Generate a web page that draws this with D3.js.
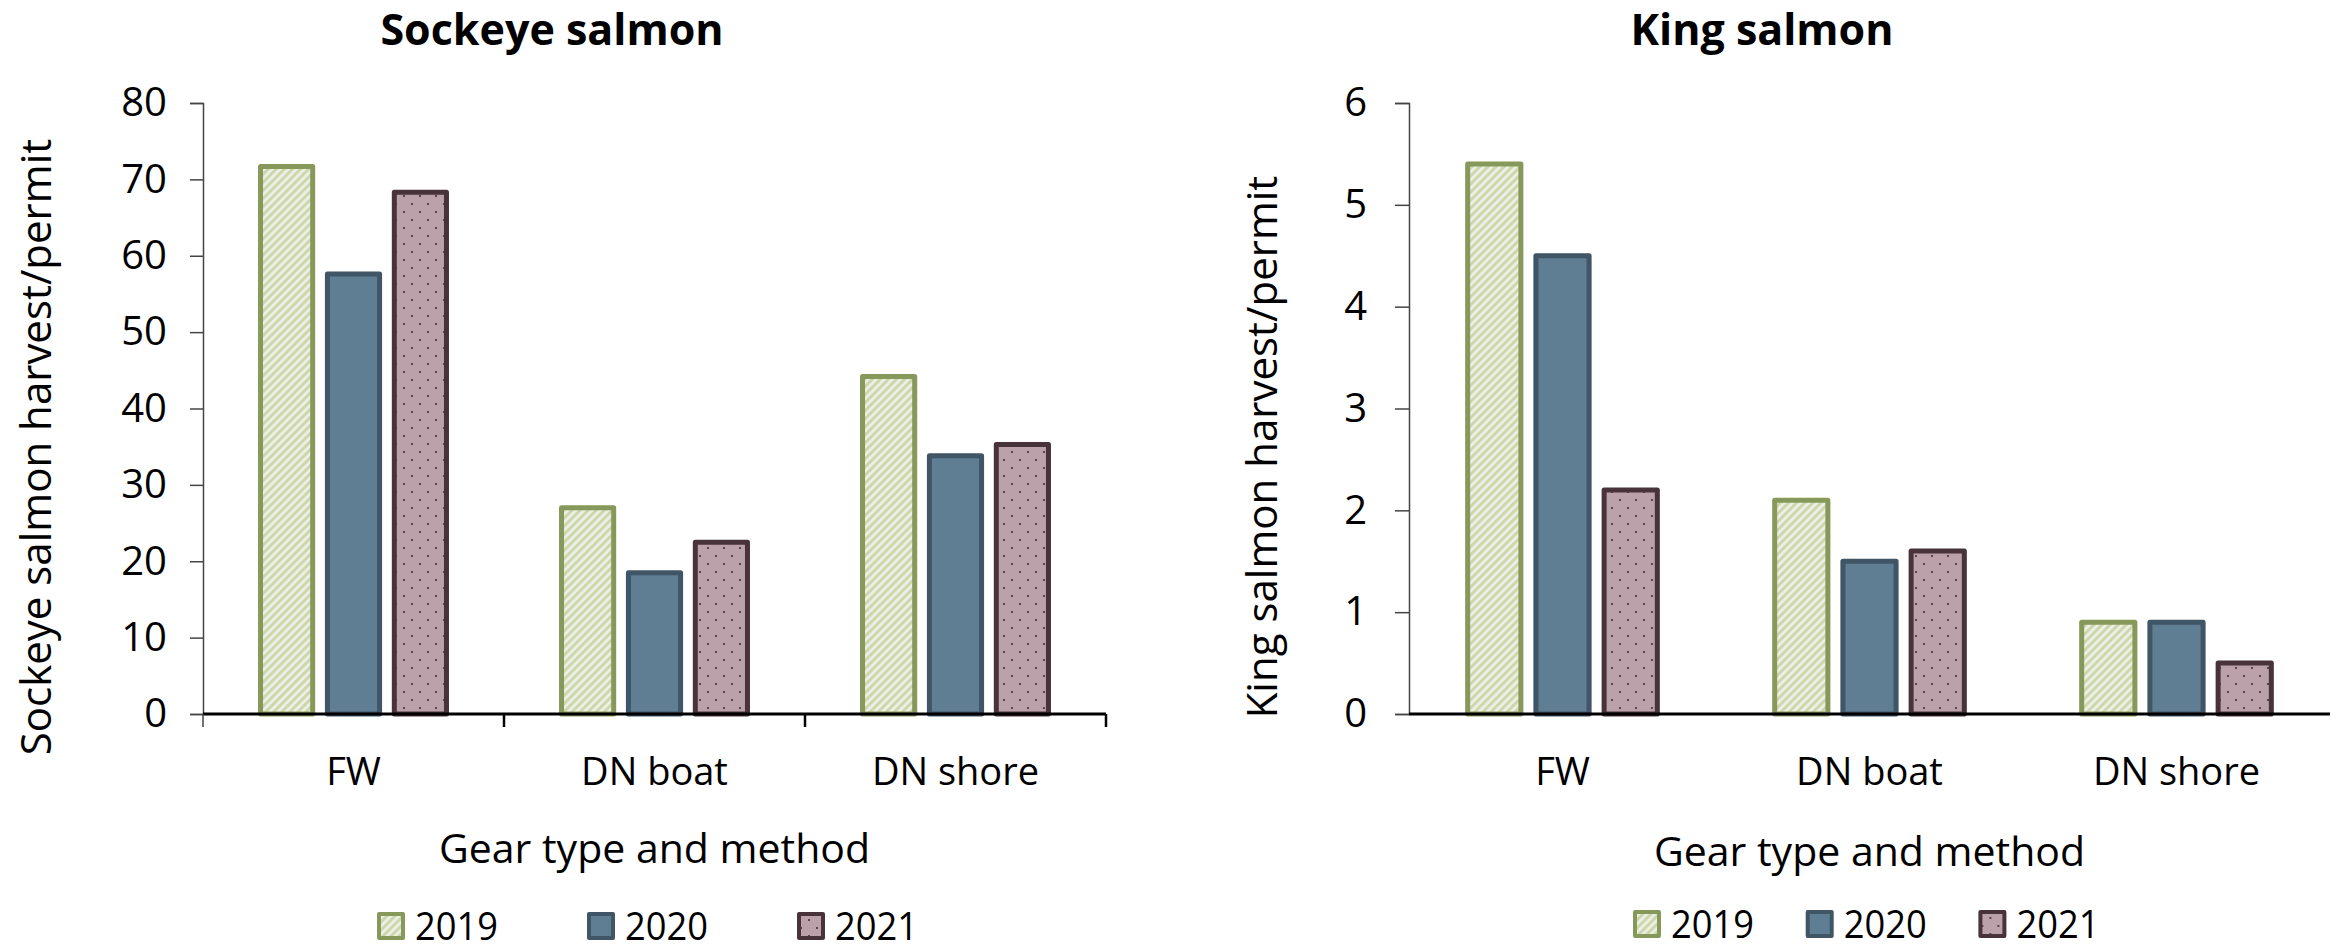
<!DOCTYPE html>
<html>
<head>
<meta charset="utf-8">
<script src="https://cdn.jsdelivr.net/npm/d3@7"></script>
<style>
  body { margin: 0; background: #fff; }
  text { font-family: "Open Sans", sans-serif; fill: #000; }
</style>
</head>
<body>
<script>
// data
var categories = ["FW", "DN boat", "DN shore"];
var years = ["2019", "2020", "2021"];

var sockeye2019 = [71.7, 27.0, 44.2];
var sockeye2020 = [57.6, 18.5, 33.8];
var sockeye2021 = [68.3, 22.5, 35.3];

var king2019 = [5.4, 2.1, 0.9];
var king2020 = [4.5, 1.5, 0.9];
var king2021 = [2.2, 1.6, 0.5];

var sockeyeTicks = [0, 10, 20, 30, 40, 50, 60, 70, 80];
var kingTicks = [0, 1, 2, 3, 4, 5, 6];

// look of each year
var estilo = {
  "2019": { fill: "url(#rayas)", stroke: "#86995a" },
  "2020": { fill: "#5f7e93", stroke: "#405566" },
  "2021": { fill: "url(#puntos)", stroke: "#48333a" }
};

var svg = d3.select("body").append("svg")
  .attr("width", 2338)
  .attr("height", 950);

// patterns
var defs = svg.append("defs");
var rayas = defs.append("pattern")
  .attr("id", "rayas")
  .attr("patternUnits", "userSpaceOnUse")
  .attr("width", 5.7).attr("height", 5.7)
  .attr("patternTransform", "rotate(45)");
rayas.append("rect").attr("width", 5.7).attr("height", 5.7).attr("fill", "#edf0e5");
rayas.append("rect").attr("width", 3).attr("height", 5.7).attr("fill", "#cdd7ae");

var puntos = defs.append("pattern")
  .attr("id", "puntos")
  .attr("patternUnits", "userSpaceOnUse")
  .attr("width", 16).attr("height", 16);
puntos.append("rect").attr("width", 16).attr("height", 16).attr("fill", "#bba2aa");
puntos.append("rect").attr("x", 3).attr("y", 3).attr("width", 2).attr("height", 2).attr("fill", "#5e4450");
puntos.append("rect").attr("x", 11).attr("y", 11).attr("width", 2).attr("height", 2).attr("fill", "#5e4450");

function dibujar(op) {
  var g = svg.append("g");

  var x0 = d3.scaleBand()
    .domain(categories)
    .range([op.left, op.right])
    .padding(0);

  var x1 = d3.scaleBand()
    .domain(years)
    .range([0, x0.bandwidth()])
    .paddingInner(0.22)
    .paddingOuter(0.86);

  var y = d3.scaleLinear()
    .domain([0, op.max])
    .range([714, 103]);

  // y axis
  var ejeY = g.append("g")
    .attr("transform", "translate(" + op.left + ",0)")
    .call(d3.axisLeft(y).tickValues(op.ticks).tickFormat(d3.format("d"))
      .tickSizeOuter(0).tickSize(op.tickSize).tickPadding(op.tickPad));
  ejeY.select(".domain").attr("stroke", "#444").attr("stroke-width", 1.5);
  ejeY.selectAll(".tick line").attr("stroke", "#444").attr("stroke-width", 1.5);
  ejeY.selectAll(".tick text")
    .style("font-family", "Open Sans")
    .style("font-size", "40px")
    .attr("fill", "#000");

  // bars
  var filas = categories.map(function(c, i) {
    return years.map(function(yr, j) {
      return { cat: c, year: yr, value: op.series[j][i] };
    });
  });

  g.selectAll("g.grupo")
    .data(filas)
    .enter()
    .append("g")
    .attr("class", "grupo")
    .selectAll("rect")
    .data(function(d) { return d; })
    .enter()
    .append("rect")
    .attr("x", function(d) { return x0(d.cat) + x1(d.year); })
    .attr("y", function(d) { return y(d.value); })
    .attr("width", x1.bandwidth())
    .attr("height", function(d) { return y(0) - y(d.value); })
    .attr("fill", function(d) { return estilo[d.year].fill; })
    .attr("stroke", function(d) { return estilo[d.year].stroke; })
    .attr("stroke-width", 5)
    .attr("stroke-linejoin", "round");

  // x axis line
  g.append("line")
    .attr("x1", op.left).attr("x2", op.right)
    .attr("y1", y(0)).attr("y2", y(0))
    .attr("stroke", "#000").attr("stroke-width", 3);

  if (op.xTicks) {
    var bordes = categories.map(function(c) { return x0(c); }).concat([op.right]);
    g.selectAll("line.xt")
      .data(bordes)
      .enter()
      .append("line")
      .attr("class", "xt")
      .attr("x1", function(d) { return d; })
      .attr("x2", function(d) { return d; })
      .attr("y1", y(0)).attr("y2", y(0) + 13)
      .attr("stroke", function(d, i) { return i == 0 ? "#444" : "#000"; })
      .attr("stroke-width", function(d, i) { return i == 0 ? 1.5 : 2.5; });
  }

  // category labels
  g.selectAll("text.cat")
    .data(categories)
    .enter()
    .append("text")
    .attr("class", "cat")
    .attr("x", function(d) { return x0(d) + x0.bandwidth() / 2; })
    .attr("y", 785)
    .attr("text-anchor", "middle")
    .style("font-size", "38px")
    .text(function(d) { return d; });

  // titles
  g.append("text")
    .attr("x", op.titleX).attr("y", 45)
    .attr("text-anchor", "middle")
    .style("font-size", "43px")
    .style("font-weight", "bold")
    .text(op.title);

  g.append("text")
    .attr("transform", "translate(" + op.ylabX + ",447) rotate(-90)")
    .attr("text-anchor", "middle")
    .attr("dominant-baseline", "central")
    .style("font-size", "42px")
    .text(op.ylab);

  g.append("text")
    .attr("x", (op.left + op.right) / 2).attr("y", op.xlabY)
    .attr("text-anchor", "middle")
    .attr("dominant-baseline", "central")
    .style("font-size", "41px")
    .text("Gear type and method");

  // legend
  var ley = g.selectAll("g.ley")
    .data(years)
    .enter()
    .append("g")
    .attr("class", "ley")
    .attr("transform", function(d, i) {
      return "translate(" + (op.legX + i * op.legStep) + "," + op.legY + ")";
    });
  ley.append("rect")
    .attr("x", 2).attr("y", -26)
    .attr("width", 24).attr("height", 24)
    .attr("fill", function(d) { return estilo[d].fill; })
    .attr("stroke", function(d) { return estilo[d].stroke; })
    .attr("stroke-width", 4)
    .attr("stroke-linejoin", "round");
  ley.append("text")
    .attr("x", 38).attr("y", 0)
    .attr("textLength", 83)
    .attr("lengthAdjust", "spacingAndGlyphs")
    .style("font-size", "39px")
    .text(function(d) { return d; });
}

dibujar({
  left: 203, right: 1106, max: 80, ticks: sockeyeTicks,
  tickSize: 13, tickPad: 23, xTicks: true,
  series: [sockeye2019, sockeye2020, sockeye2021],
  title: "Sockeye salmon", titleX: 552,
  ylab: "Sockeye salmon harvest/permit", ylabX: 34,
  xlabY: 847,
  legX: 377, legStep: 210, legY: 940
});

dibujar({
  left: 1409, right: 2330, max: 6, ticks: kingTicks,
  tickSize: 14, tickPad: 28, xTicks: false,
  series: [king2019, king2020, king2021],
  title: "King salmon", titleX: 1762,
  ylab: "King salmon harvest/permit", ylabX: 1260,
  xlabY: 850,
  legX: 1633, legStep: 172.7, legY: 938
});
</script>
</body>
</html>
